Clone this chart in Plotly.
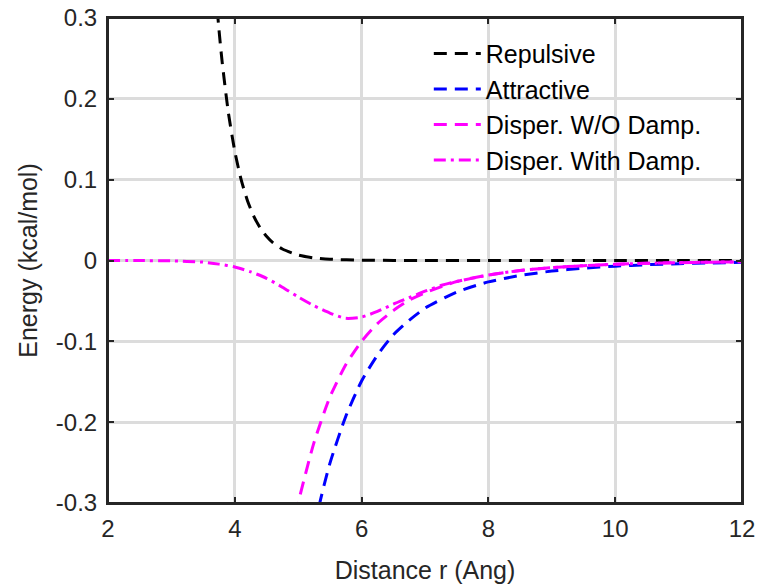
import plotly.graph_objects as go

# Repulsive term
rep_r = [3.6, 3.7, 3.75, 3.8, 3.9, 4.0, 4.1, 4.2, 4.3, 4.4, 4.5, 4.6, 4.75, 5.0, 5.25, 5.5, 6.0, 7.0, 8.0, 9.0, 10.0, 11.0, 12.0]
rep_e = [0.44, 0.332, 0.286, 0.246, 0.182, 0.135, 0.100, 0.074, 0.0547, 0.0405, 0.030, 0.0222, 0.0142, 0.0067, 0.0032, 0.0016, 0.0004, 0.00002, 0.0, 0.0, 0.0, 0.0, 0.0]

# Attractive term
att_r = [5.2, 5.3, 5.34, 5.5, 5.75, 6.0, 6.25, 6.5, 6.75, 7.0, 7.5, 8.0, 8.5, 9.0, 9.5, 10.0, 10.5, 11.0, 11.5, 12.0]
att_e = [-0.355, -0.318, -0.300, -0.251, -0.193, -0.149, -0.117, -0.092, -0.074, -0.059, -0.039, -0.0265, -0.0185, -0.0131, -0.0095, -0.0070, -0.0052, -0.0039, -0.0030, -0.0023]

# Dispersion without damping
dis_r = [4.9, 5.0, 5.25, 5.5, 5.75, 6.0, 6.25, 6.5, 6.75, 7.0, 7.5, 8.0, 8.5, 9.0, 9.5, 10.0, 10.5, 11.0, 11.5, 12.0]
dis_e = [-0.34, -0.300, -0.225, -0.169, -0.129, -0.100, -0.078, -0.062, -0.049, -0.040, -0.026, -0.018, -0.0124, -0.0088, -0.0064, -0.0047, -0.0035, -0.0027, -0.0021, -0.0016]

# Dispersion with damping
dmp_r = [2.0, 2.5, 3.0, 3.5, 3.75, 4.0, 4.25, 4.5, 4.75, 5.0, 5.25, 5.5, 5.75, 6.0, 6.25, 6.5, 6.75, 7.0, 7.25, 7.5, 8.0, 8.5, 9.0, 9.5, 10.0, 10.5, 11.0, 11.5, 12.0]
dmp_e = [0.0, -0.0001, -0.0005, -0.002, -0.0045, -0.008, -0.014, -0.022, -0.033, -0.045, -0.056, -0.065, -0.0715, -0.070, -0.063, -0.054, -0.046, -0.038, -0.031, -0.026, -0.018, -0.0124, -0.0088, -0.0064, -0.0047, -0.0035, -0.0027, -0.0021, -0.0016]

x_ticks = [2, 4, 6, 8, 10, 12]
y_ticks = [-0.3, -0.2, -0.1, 0, 0.1, 0.2, 0.3]
y_ticktext = ["-0.3", "-0.2", "-0.1", "0", "0.1", "0.2", "0.3"]

FONT = "Arial, Liberation Sans, sans-serif"
AX = "#262626"

fig = go.Figure()
traces = [
    (rep_r, rep_e, "Repulsive", "#000000", "13px,8px"),
    (att_r, att_e, "Attractive", "#0000ff", "13px,8px"),
    (dis_r, dis_e, "Disper. W/O Damp.", "#ff00ff", "13px,8px"),
    (dmp_r, dmp_e, "Disper. With Damp.", "#ff00ff", "12px,5px,3px,5px"),
]
for i, (xr, ye, nm, col, dsh) in enumerate(traces):
    fig.add_trace(go.Scatter(
        x=xr, y=ye, mode="lines", name=nm, legendgroup=f"g{i}",
        line=dict(color=col, width=3, dash=dsh, shape="spline", smoothing=0.6),
        cliponaxis=True,
    ))

fig.update_layout(
    width=767, height=584,
    margin=dict(l=108, r=25, t=18, b=81, autoexpand=False),
    paper_bgcolor="white", plot_bgcolor="white",
    font=dict(family=FONT, size=23, color=AX),
    showlegend=True,
    legend=dict(
        x=0.506, y=0.9735, xanchor="left", yanchor="top",
        bgcolor="rgba(0,0,0,0)", borderwidth=0,
        font=dict(family=FONT, size=25, color="#000000"),
        tracegroupgap=0, traceorder="grouped", itemwidth=47,
    ),
)
# axes frame (box on)
fig.add_shape(type="rect", xref="paper", yref="paper", x0=0, x1=1, y0=0, y1=1,
              line=dict(color=AX, width=2), fillcolor="rgba(0,0,0,0)", layer="above")

fig.update_xaxes(
    range=[2, 12], tickvals=x_ticks, ticktext=[str(v) for v in x_ticks],
    showgrid=True, gridcolor="#dcdcdc", gridwidth=2.5,
    zeroline=False, showline=True, linecolor=AX, linewidth=2,
    mirror="allticks", ticks="inside", ticklen=6, tickwidth=2, tickcolor=AX,
    tickfont=dict(size=24, color=AX), ticklabelstandoff=3, automargin=False,
    ticklabeloverflow="allow",
    title=dict(text="Distance r (Ang)", font=dict(size=25, color=AX), standoff=22),
)
fig.update_yaxes(
    range=[-0.3, 0.3], tickvals=y_ticks, ticktext=y_ticktext,
    showgrid=True, gridcolor="#dcdcdc", gridwidth=2.5,
    zeroline=False, showline=True, linecolor=AX, linewidth=2,
    mirror="allticks", ticks="inside", ticklen=6, tickwidth=2, tickcolor=AX,
    tickfont=dict(size=24, color=AX), ticklabelstandoff=4, automargin=False,
    ticklabeloverflow="allow",
    title=dict(text="Energy (kcal/mol)", font=dict(size=25, color=AX), standoff=11),
)

# remove the browser's default 8px body margin so the figure fills the window
fig.write_html(
    "out.html",
    config={"displayModeBar": False},
    post_script="document.body.style.margin='0';document.body.style.overflow='hidden';",
)
